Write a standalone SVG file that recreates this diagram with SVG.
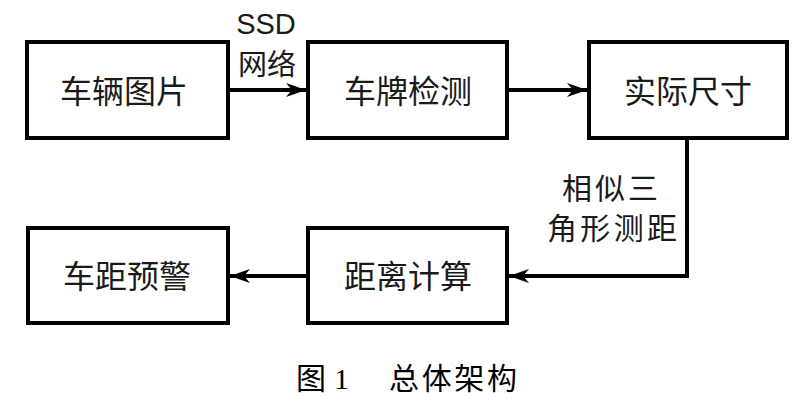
<svg xmlns="http://www.w3.org/2000/svg" width="800" height="404" viewBox="0 0 800 404">
<style>
.box{fill:#fff;stroke:#000;stroke-width:4}
.lbl{font-family:"Noto Sans CJK SC","Liberation Sans",sans-serif;font-size:32px;fill:#1a1a1a;text-anchor:middle}
.note{font-family:"Liberation Sans","Noto Sans CJK SC",sans-serif;font-size:29px;fill:#1a1a1a;text-anchor:middle}
.note2{font-family:"Noto Sans CJK SC",sans-serif;font-size:30px;fill:#1a1a1a;text-anchor:middle}
.conn{fill:none;stroke:#000;stroke-width:4}
.cap{font-family:"Liberation Serif","Noto Sans CJK SC",serif;font-size:30px;fill:#000}
</style>
<defs>
<marker id="ah" markerUnits="userSpaceOnUse" markerWidth="22" markerHeight="18" refX="20" refY="9" orient="auto">
<path d="M0,2 L20,9 L0,16 L6,9 Z" fill="#000"/>
</marker>
</defs>
<rect width="800" height="404" fill="#fff"/>
<g id="connectors">
<path class="conn" d="M228,90 L306,90" marker-end="url(#ah)"/>
<path class="conn" d="M507,90 L587,90" marker-end="url(#ah)"/>
<path class="conn" d="M687,138 L687,276 L509,276" marker-end="url(#ah)"/>
<path class="conn" d="M308,276 L230,276" marker-end="url(#ah)"/>
<text class="note" x="266" y="34">SSD</text>
<text class="note" x="267" y="75">网络</text>
<text class="note2" x="610" y="199" textLength="96" lengthAdjust="spacing">相似三</text>
<text class="note2" x="612" y="239" textLength="130" lengthAdjust="spacing">角形测距</text>
</g>
<g id="n1"><rect class="box" x="27" y="42" width="201" height="96"/><text class="lbl" x="124" y="103">车辆图片</text></g>
<g id="n2"><rect class="box" x="308" y="42" width="199" height="96"/><text class="lbl" x="408" y="103">车牌检测</text></g>
<g id="n3"><rect class="box" x="589" y="42" width="198" height="96"/><text class="lbl" x="688" y="103">实际尺寸</text></g>
<g id="n4"><rect class="box" x="28" y="228" width="200" height="95"/><text class="lbl" x="127" y="288">车距预警</text></g>
<g id="n5"><rect class="box" x="308" y="228" width="199" height="95"/><text class="lbl" x="408" y="288">距离计算</text></g>
<g id="caption">
<text class="cap" x="296" y="389">图</text>
<text class="cap" x="334" y="389">1</text>
<text class="cap" x="389" y="389" textLength="128" lengthAdjust="spacing">总体架构</text>
</g>
</svg>
